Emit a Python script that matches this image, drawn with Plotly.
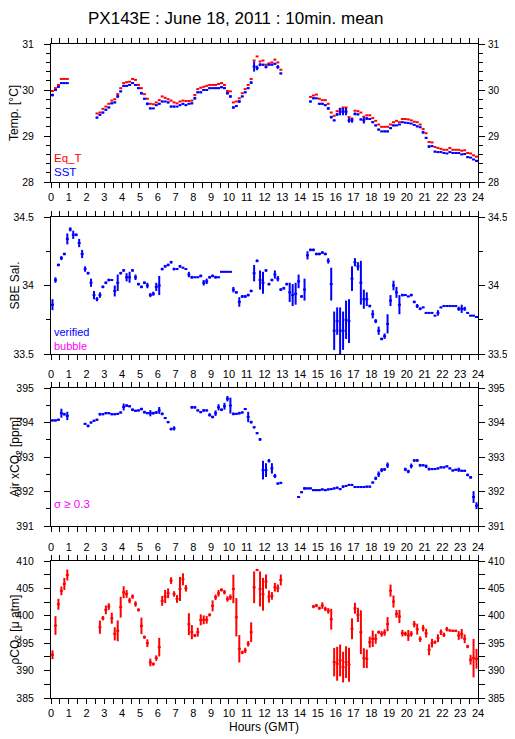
import numpy as np
import plotly.graph_objects as go

# 10-minute bins over the day (bin centres, hours GMT)
hours = np.arange(144) / 6 + 1 / 12
N = None

sst = [29.89, 30.00, 30.07, 30.15, 30.15, 30.15,
       N, N, N, N, N, N, N, N, N,
       29.40, 29.46, 29.51,
       29.57, 29.62, 29.71, 29.73, 29.86, 29.97,
       30.09, 30.09, 30.11, 30.15, 30.11, 30.04,
       29.93, 29.81, 29.70, 29.60, 29.60, 29.67,
       29.70, 29.75, 29.75, 29.73, 29.64, 29.64,
       29.64, 29.67, 29.70, 29.67, 29.70, 29.71,
       29.82, 29.95, 29.95, 30.00, 30.00, 30.04,
       30.04, 30.04, 30.04, 30.06, 30.04, 29.93,
       29.86, 29.62, 29.65, 29.75, 29.86, 29.95,
       30.04, 30.16, 30.51, 30.48, 30.55, 30.55,
       30.50, 30.55, 30.55, 30.57, 30.50, 30.36,
       N, N, N, N, N, N, N, N, N,
       29.75, 29.82, 29.82,
       29.70, 29.70, 29.67, 29.60, 29.41, 29.34,
       29.47, 29.53, 29.53, 29.53, 29.34, 29.34,
       29.48, 29.47, 29.36, 29.34, 29.38, 29.37,
       29.30, 29.23, 29.14, 29.10, 29.10, 29.10,
       29.17, 29.23, 29.23, 29.25, 29.30, 29.29,
       29.28, 29.27, 29.24, 29.21, 29.19, 29.08,
       28.96, 28.77, 28.78, 28.66, 28.65, 28.65,
       28.63, 28.62, 28.65, 28.63, 28.63, 28.63,
       28.60, 28.61, 28.54, 28.53, 28.49, 28.46]

sst_sd = [0.03, 0.02, 0.02, 0.02, 0.01, 0.01,
          N, N, N, N, N, N, N, N, N,
          0.02, 0.02, 0.02,
          0.02, 0.02, 0.02, 0.02, 0.03, 0.02,
          0.02, 0.02, 0.02, 0.02, 0.02, 0.02,
          0.03, 0.02, 0.03, 0.02, 0.01, 0.02,
          0.02, 0.02, 0.01, 0.02, 0.02, 0.02,
          0.01, 0.02, 0.02, 0.02, 0.01, 0.02,
          0.03, 0.02, 0.02, 0.02, 0.01, 0.02,
          0.01, 0.02, 0.02, 0.02, 0.02, 0.03,
          0.03, 0.03, 0.02, 0.03, 0.02, 0.02,
          0.02, 0.03, 0.11, 0.05, 0.03, 0.02,
          0.03, 0.02, 0.02, 0.02, 0.04, 0.02,
          N, N, N, N, N, N, N, N, N,
          0.02, 0.02, 0.01,
          0.02, 0.02, 0.02, 0.03, 0.03, 0.02,
          0.03, 0.08, 0.08, 0.08, 0.05, 0.05,
          0.03, 0.02, 0.02, 0.07, 0.03, 0.02,
          0.02, 0.02, 0.02, 0.01, 0.02, 0.02,
          0.02, 0.02, 0.01, 0.01, 0.01, 0.01,
          0.01, 0.01, 0.01, 0.02, 0.01, 0.03,
          0.02, 0.03, 0.02, 0.02, 0.01, 0.01,
          0.01, 0.01, 0.01, 0.01, 0.01, 0.01,
          0.01, 0.01, 0.01, 0.01, 0.01, 0.02]

eq_t = [29.98, 30.04, 30.11, 30.24, 30.24, 30.24,
        N, N, N, N, N, N, N, N, N,
        29.49, 29.51, 29.59,
        29.64, 29.70, 29.77, 29.80, 29.91, 30.04,
        30.15, 30.17, 30.18, 30.24, 30.22, 30.11,
        30.04, 29.91, 29.81, 29.70, 29.69, 29.73,
        29.78, 29.86, 29.83, 29.80, 29.77, 29.73,
        29.71, 29.75, 29.77, 29.76, 29.76, 29.77,
        29.89, 30.02, 30.05, 30.07, 30.09, 30.11,
        30.11, 30.11, 30.13, 30.15, 30.11, 29.98,
        29.97, 29.73, 29.75, 29.82, 29.93, 30.02,
        30.11, 30.24, 30.64, 30.73, 30.62, 30.64,
        30.55, 30.58, 30.60, 30.66, 30.60, 30.44,
        N, N, N, N, N, N, N, N, N,
        29.85, 29.88, 29.90,
        29.81, 29.78, 29.78, 29.70, 29.51, 29.44,
        29.54, 29.59, 29.62, 29.62, 29.41, 29.38,
        29.55, 29.54, 29.51, 29.42, 29.45, 29.45,
        29.39, 29.33, 29.25, 29.20, 29.20, 29.20,
        29.25, 29.30, 29.33, 29.30, 29.37, 29.37,
        29.36, 29.34, 29.31, 29.30, 29.25, 29.15,
        29.06, 28.87, 28.86, 28.76, 28.74, 28.72,
        28.70, 28.70, 28.74, 28.70, 28.70, 28.70,
        28.68, 28.69, 28.63, 28.62, 28.58, 28.55]

sal = [33.86, 34.04, 34.15, 34.20, 34.23, 34.34,
       34.41, 34.37, 34.37, 34.31, 34.23, 34.12,
       34.09, 34.02, 33.93, 33.90, 33.93, 33.99,
       34.02, 34.04, 34.04, 33.96, 34.02, 34.09,
       34.11, 34.06, 34.06, 34.11, 34.06, 34.01,
       33.99, 34.02, 34.00, 33.93, 33.94, 33.99,
       34.00, 34.12, 34.14, 34.15, 34.17, 34.12,
       34.12, 34.14, 34.13, 34.12, 34.08, 34.06,
       34.06, 34.06, 34.07, 34.02, 34.03, 34.06,
       34.07, 34.06, 34.06, 34.10, 34.10, 34.10,
       34.10, 33.97, 33.95, 33.88, 33.92, 33.92,
       33.93, 33.96, 34.09, 34.18, 34.04, 34.02,
       34.11, 34.01, 34.04, 34.08, 34.05, 33.97,
       33.98, 34.01, 33.95, 33.93, 33.94, 34.03,
       33.92, 33.97, 34.22, 34.26, 34.26, 34.23,
       34.23, 34.24, 34.23, 34.18, 34.01, 33.67,
       33.74, 33.67, 33.67, 33.75, 33.74, 34.05,
       34.17, 34.14, 34.02, 33.90, 33.90, 33.85,
       33.79, 33.74, 33.67, 33.61, 33.63, 33.72,
       33.89, 34.00, 33.95, 33.86, 33.93, 33.93,
       33.92, 33.93, 33.88, 33.85, 33.83, 33.84,
       33.80, 33.80, 33.80, 33.78, 33.80, 33.84,
       33.85, 33.85, 33.85, 33.85, 33.85, 33.83,
       33.83, 33.83, 33.80, 33.78, 33.78, 33.77]

sal_sd = [0.04, 0.02, 0.01, 0.015, 0.01, 0.04,
          0.015, 0.03, 0.01, 0.03, 0.03, 0.02,
          0.01, 0.03, 0.03, 0.015, 0.02, 0.01,
          0.01, 0.01, 0.005, 0.04, 0.06, 0.01,
          0.01, 0.03, 0.04, 0.01, 0.02, 0.01,
          0.01, 0.01, 0.02, 0.015, 0.015, 0.03,
          0.07, 0.01, 0.01, 0.01, 0.01, 0.01,
          0.005, 0.01, 0.005, 0.005, 0.02, 0.01,
          0.005, 0.005, 0.01, 0.02, 0.02, 0.01,
          0.01, 0.01, 0.005, 0.005, 0.005, 0.005,
          0.005, 0.02, 0.01, 0.035, 0.01, 0.01,
          0.01, 0.01, 0.06, 0.01, 0.07, 0.08,
          0.01, 0.01, 0.01, 0.03, 0.02, 0.01,
          0.01, 0.01, 0.07, 0.08, 0.08, 0.05,
          0.01, 0.08, 0.03, 0.01, 0.01, 0.01,
          0.01, 0.01, 0.01, 0.02, 0.12, 0.14,
          0.10, 0.17, 0.14, 0.14, 0.16, 0.09,
          0.03, 0.03, 0.16, 0.07, 0.05, 0.01,
          0.03, 0.015, 0.03, 0.01, 0.02, 0.07,
          0.04, 0.035, 0.04, 0.07, 0.01, 0.005,
          0.005, 0.01, 0.01, 0.015, 0.01, 0.005,
          0.005, 0.005, 0.005, 0.005, 0.02, 0.005,
          0.005, 0.005, 0.005, 0.005, 0.005, 0.015,
          0.03, 0.015, 0.005, 0.005, 0.005, 0.005]

xco2 = [394.06, 394.06, 394.08, 394.27, 394.24, 394.19,
        N, N, N, N, N, 393.96,
        393.90, 394.00, 394.05, 394.08, 394.24, 394.24,
        394.27, 394.27, 394.24, 394.24, 394.25, 394.29,
        394.45, 394.49, 394.47, 394.37, 394.34, 394.35,
        394.39, 394.30, 394.27, 394.27, 394.27, 394.29,
        394.35, 394.25, 394.13, 394.01, 393.81, 393.83,
        N, N, N, N, N, 394.44,
        394.44, 394.35, 394.30, 394.35, 394.35, 394.22,
        394.16, 394.27, 394.44, 394.37, 394.47, 394.69,
        394.49, 394.25, 394.25, 394.27, 394.29, 394.39,
        394.16, 394.01, 393.86, 393.69, 393.51, 392.62,
        392.62, 392.89, 392.67, 392.45, 392.23, 392.25,
        N, N, N, N, N, 391.84,
        391.98, 392.09, 392.09, 392.09, 392.04, 392.04,
        392.04, 392.06, 392.04, 392.06, 392.07, 392.09,
        392.11, 392.07, 392.14, 392.16, 392.19, 392.19,
        392.13, 392.13, 392.13, 392.13, 392.14, 392.14,
        392.26, 392.38, 392.50, 392.62, 392.64, 392.76,
        N, N, N, N, N, 392.64,
        392.58, 392.74, 392.90, 392.90, 392.76, 392.76,
        392.73, 392.65, 392.65, 392.65, 392.67, 392.70,
        392.70, 392.73, 392.67, 392.61, 392.63, 392.63,
        392.60, 392.60, 392.48, 392.41, 391.84, 391.59]

xco2_sd = [0.03, 0.03, 0.03, 0.13, 0.04, 0.12,
           N, N, N, N, N, 0.03,
           0.04, 0.03, 0.03, 0.03, 0.04, 0.03,
           0.03, 0.03, 0.03, 0.03, 0.03, 0.03,
           0.10, 0.04, 0.03, 0.04, 0.03, 0.03,
           0.04, 0.04, 0.03, 0.09, 0.04, 0.04,
           0.10, 0.04, 0.03, 0.03, 0.04, 0.06,
           N, N, N, N, N, 0.04,
           0.04, 0.03, 0.03, 0.04, 0.03, 0.05,
           0.04, 0.08, 0.09, 0.04, 0.10, 0.08,
           0.23, 0.04, 0.03, 0.04, 0.03, 0.03,
           0.15, 0.04, 0.03, 0.03, 0.04, 0.27,
           0.20, 0.05, 0.15, 0.06, 0.03, 0.03,
           N, N, N, N, N, 0.03,
           0.03, 0.04, 0.03, 0.03, 0.03, 0.03,
           0.03, 0.03, 0.03, 0.03, 0.03, 0.03,
           0.03, 0.03, 0.04, 0.03, 0.03, 0.03,
           0.03, 0.03, 0.03, 0.03, 0.03, 0.03,
           0.03, 0.05, 0.08, 0.06, 0.04, 0.08,
           N, N, N, N, N, 0.05,
           0.05, 0.07, 0.04, 0.04, 0.04, 0.03,
           0.05, 0.04, 0.03, 0.03, 0.03, 0.03,
           0.03, 0.03, 0.03, 0.03, 0.03, 0.06,
           0.03, 0.03, 0.04, 0.04, 0.17, 0.10]

pco2 = [392.89, 398.23, 402.11, 404.54, 405.81, 407.45,
        N, N, N, N, N, N,
        N, N, N, N, 397.92, 399.56,
        401.08, 401.69, 399.56, 396.71, 397.26, 401.57,
        404.30, 403.99, 402.78, 403.51, 402.17, 401.08,
        398.17, 396.10, 395.00, 391.49, 391.19, 392.28,
        394.28, 402.72, 403.51, 404.11, 406.42, 403.99,
        403.08, 404.90, 406.66, 405.02, 398.47, 397.01,
        396.41, 397.01, 399.26, 399.26, 399.26, 400.17,
        401.81, 403.39, 404.11, 404.72, 404.30, 403.08,
        403.39, 404.90, 399.74, 393.98, 393.31, 393.68,
        394.89, 397.01, 405.21, 408.36, 404.90, 403.93,
        406.24, 403.51, 403.63, 405.21, 405.02, 406.54,
        N, N, N, N, N, N,
        N, N, N, N, 401.69, 401.87,
        401.38, 401.87, 401.26, 400.90, 399.38, 391.55,
        391.25, 391.86, 390.64, 391.55, 391.07, 397.62,
        401.38, 400.17, 397.01, 392.28, 392.16, 395.19,
        395.80, 395.80, 397.01, 396.71, 396.95, 398.47,
        404.60, 402.60, 400.35, 399.87, 396.83, 396.71,
        396.41, 396.71, 398.47, 397.56, 395.74, 397.74,
        396.83, 393.80, 395.01, 395.19, 395.92, 397.01,
        396.53, 397.56, 397.32, 397.26, 397.26, 396.41,
        396.71, 395.80, 394.40, 391.98, 392.28, 392.16]

pco2_sd = [0.8, 1.7, 1.0, 0.8, 1.1, 1.0,
           N, N, N, N, N, N,
           N, N, N, N, 1.2, 0.4,
           0.8, 0.6, 1.0, 1.2, 1.9, 1.9,
           1.1, 0.7, 0.5, 0.4, 0.5, 0.3,
           1.5, 0.3, 0.7, 0.7, 0.3, 0.5,
           1.7, 0.9, 1.2, 0.9, 0.6, 0.5,
           0.7, 2.2, 1.1, 0.6, 2.0, 1.3,
           0.3, 0.8, 1.0, 0.8, 0.7, 0.3,
           1.0, 0.5, 0.6, 0.3, 0.4, 0.5,
           0.5, 2.6, 3.5, 2.5, 0.3, 0.5,
           0.5, 1.8, 2.9, 0.2, 3.2, 3.0,
           1.3, 1.1, 0.7, 0.8, 0.7, 1.0,
           N, N, N, N, N, N,
           N, N, N, N, 0.3, 0.3,
           0.3, 0.6, 0.4, 0.5, 1.9, 2.6,
           3.1, 2.9, 2.8, 2.9, 3.1, 1.9,
           1.0, 1.3, 4.0, 1.8, 1.7, 1.0,
           1.5, 0.9, 0.3, 0.5, 0.6, 1.3,
           1.1, 1.1, 0.7, 1.2, 0.6, 0.4,
           1.0, 0.5, 0.6, 1.0, 0.5, 0.6,
           0.8, 1.0, 0.8, 0.3, 0.7, 0.5,
           0.4, 0.4, 0.2, 0.2, 0.2, 0.8,
           0.9, 0.8, 0.3, 0.9, 3.5, 1.8]

BLUE = "#0000ff"
RED = "#ff0000"
MAGENTA = "#ff00ff"
FONT = "Liberation Sans, Arial, Helvetica, sans-serif"
HALF = 1 / 12  # half of a 10-minute bin, in hours

# the page puts the plot 8px in from the corner, so shift screen pixels back
W, H = 499, 739
OFF = 8


def px(X):
    return (X - OFF) / W


def py(Y):
    return 1 - (Y - OFF) / H


x_dom = [px(51), px(478)]
doms = [[py(182), py(44)],
        [py(354), py(217)],
        [py(526), py(388)],
        [py(698), py(561)]]


def bars(y, sd, color, ax, vertical=True):
    return go.Scatter(
        x=hours, y=y, mode="markers",
        marker=dict(size=0.1, color=color),
        error_x=dict(type="constant", value=HALF, color=color, thickness=2, width=0),
        error_y=dict(type="data", array=sd, color=color, thickness=2, width=0,
                     visible=vertical),
        xaxis="x" + ax, yaxis="y" + ax, showlegend=False, hoverinfo="skip",
    )


fig = go.Figure()
fig.add_trace(bars(eq_t, None, RED, "", vertical=False))
fig.add_trace(bars(sst, sst_sd, BLUE, ""))
fig.add_trace(bars(sal, sal_sd, BLUE, "2"))
fig.add_trace(bars(xco2, xco2_sd, BLUE, "3"))
fig.add_trace(bars(pco2, pco2_sd, RED, "4"))

# dummy traces so the mirrored right-hand / top label axes get drawn
for xa, ya in [("x", "y5"), ("x2", "y6"), ("x3", "y7"), ("x4", "y8"), ("x5", "y4")]:
    fig.add_trace(go.Scatter(x=[None], y=[None], xaxis=xa, yaxis=ya,
                             showlegend=False, hoverinfo="skip"))

xfont = dict(family=FONT, size=11, color="black")
yfont = dict(family=FONT, size=10.5, color="black")
rfont = dict(family=FONT, size=10, color="black")
xcommon = dict(range=[0, 24], domain=x_dom, dtick=1, tick0=0, ticks="outside",
               ticklen=5, tickcolor="black", showline=True, linecolor="black",
               linewidth=1, showgrid=False, zeroline=False, tickfont=xfont,
               automargin=False,
               minor=dict(dtick=0.5, ticks="outside", ticklen=5, tickcolor="black"))

y_ranges = [[28, 31], [33.5, 34.5], [391, 395], [385, 410]]
y_dticks = [1, 0.5, 1, 5]
y_minor = [0.2, 0.25, 0.5, 2.5]

layout = dict(template="none", width=W, height=H,
              margin=dict(l=0, r=0, t=0, b=0, pad=0),
              paper_bgcolor="white", plot_bgcolor="white", showlegend=False,
              font=dict(family=FONT, color="black"))

x_sides = ["bottom", "bottom", "top", "bottom"]
x_labels = [True, False, True, True]
for i in range(4):
    xk = "xaxis" if i == 0 else f"xaxis{i + 1}"
    yid = "y" if i == 0 else f"y{i + 1}"
    layout[xk] = dict(xcommon, anchor=yid, side=x_sides[i], mirror="allticks",
                      showticklabels=x_labels[i])
    ycommon = dict(range=y_ranges[i], domain=doms[i], dtick=y_dticks[i],
                   ticks="outside", ticklen=6, tickcolor="black", showline=True,
                   linecolor="black", linewidth=1, showgrid=False, zeroline=False,
                   automargin=False,
                   minor=dict(dtick=y_minor[i], ticks="outside", ticklen=4,
                              tickcolor="black"))
    xid = "x" if i == 0 else f"x{i + 1}"
    layout["yaxis" if i == 0 else f"yaxis{i + 1}"] = dict(
        ycommon, anchor=xid, side="left", mirror="allticks", ticklabelstandoff=8,
        tickfont=yfont)
    layout[f"yaxis{i + 5}"] = dict(ycommon, anchor=xid, side="right",
                                   overlaying=yid, ticklabelstandoff=1,
                                   tickfont=rfont)

layout["xaxis5"] = dict(xcommon, anchor="y4", side="top", overlaying="x4")

fig.update_layout(**layout)

# title, axis titles and in-panel legends
ann = [
    dict(text="PX143E : June 18, 2011 : 10min. mean", x=px(236), y=1, size=17,
         color="black", yanchor="top"),
    dict(text="Hours (GMT)", x=px(264), y=py(727), size=12, color="black"),
    dict(text="Eq_T", x=px(53), y=py(158), size=11.5, color=RED, xanchor="left"),
    dict(text="SST", x=px(53), y=py(172), size=11.5, color=BLUE, xanchor="left"),
    dict(text="verified", x=px(53), y=py(332), size=11, color=BLUE, xanchor="left"),
    dict(text="bubble", x=px(53), y=py(346), size=11, color=MAGENTA, xanchor="left"),
    dict(text="σ ≥ 0.3", x=px(53), y=py(504), size=11.5, color=MAGENTA, xanchor="left"),
]
for a in ann:
    fig.add_annotation(text=a["text"], x=a["x"], y=a["y"], xref="paper", yref="paper",
                       xanchor=a.get("xanchor", "center"), yanchor=a.get("yanchor", "middle"),
                       showarrow=False, borderpad=0,
                       font=dict(family=FONT, size=a["size"], color=a["color"]))

y_titles = ["Temp. [°C]", "SBE Sal.", "Air xCO<sub>2</sub> [ppm]", "ρCO<sub>2</sub> [μ atm]"]
y_title_x = [14, 14, 16, 15]
for t, d, xt in zip(y_titles, doms, y_title_x):
    fig.add_annotation(text=t, x=px(xt), y=(d[0] + d[1]) / 2, xref="paper", yref="paper",
                       textangle=-90, showarrow=False, xanchor="center", yanchor="middle",
                       borderpad=0, font=dict(family=FONT, size=12, color="black"))

fig.write_html("out.html")
